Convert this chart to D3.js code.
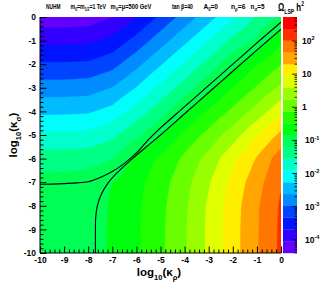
<!DOCTYPE html>
<html><head><meta charset="utf-8">
<script src="https://cdn.jsdelivr.net/npm/d3@7"></script>
<style>
body{margin:0;background:#fff}
svg{display:block}
text{font-family:"Liberation Sans",Arial,Helvetica,sans-serif;font-weight:bold;fill:#000}
</style>
</head><body>
<svg id="chart" width="327" height="282"></svg>
<script>
// ---- data ----
const xGrid = [-10,-9,-8,-7,-6,-5,-4,-3,-2,-1,0];          // log10(kappa_rho)
const yGrid = [0,-1,-2,-3,-4,-5,-6,-7,-8,-9,-10];          // log10(kappa_sigma)
// log10(Omega_LSP h^2) at grid nodes, one row per yGrid value
const logOmega = [
  [-4.26,-4.26,-4.23,-4.06,-3.70,-3.26,-2.83,-2.40,-1.96,-1.51,-1.17],
  [-3.78,-3.78,-3.76,-3.58,-3.21,-2.78,-2.35,-1.91,-1.47,-1.14,-0.53],
  [-3.29,-3.29,-3.27,-3.10,-2.72,-2.30,-1.86,-1.43,-0.93,-0.50,-0.14],
  [-2.81,-2.81,-2.78,-2.61,-2.25,-1.81,-1.39,-0.90,-0.47,-0.09, 0.31],
  [-2.34,-2.33,-2.31,-2.14,-1.75,-1.35,-0.88,-0.43,-0.05, 0.37, 0.86],
  [-1.84,-1.84,-1.81,-1.63,-1.30,-0.86,-0.38,-0.01, 0.42, 0.92, 1.39],
  [-1.38,-1.37,-1.35,-1.21,-0.69,-0.43,-0.05, 0.36, 0.85, 1.33, 1.86],
  [-1.06,-1.06,-1.00,-0.84,-0.60,-0.28, 0.10, 0.55, 1.05, 1.52, 1.99],
  [-1.00,-1.00,-1.00,-0.80,-0.55,-0.22, 0.17, 0.64, 1.13, 1.61, 2.06],
  [-1.00,-1.00,-1.00,-0.79,-0.54,-0.20, 0.19, 0.66, 1.15, 1.62, 2.08],
  [-1.00,-1.00,-0.99,-0.79,-0.54,-0.20, 0.19, 0.66, 1.15, 1.63, 2.09]
];
// the two black boundary curves [log10 kappa_rho, log10 kappa_sigma]
const upperLine = [[-10,-7.09],[-9.5,-7.08],[-9,-7.06],[-8.5,-7.03],[-8,-6.98],[-7.5,-6.8],[-7,-6.55],[-6.5,-6.2],[-6,-5.76],[-5.5,-5.2],[-5,-4.7],[-4,-3.8],[-3,-2.9],[-2,-2.0],[-1,-1.1],[0,-0.22]];
const lowerLine = [[-7.7,-10],[-7.7,-9],[-7.69,-8.5],[-7.62,-8.0],[-7.45,-7.5],[-7.15,-7.0],[-6.75,-6.55],[-6.2,-6.03],[-5.5,-5.43],[-5,-5.0],[-4,-4.1],[-3,-3.2],[-2,-2.3],[-1,-1.4],[0,-0.52]];
const zRangeLog = [-4.4, 2.725];
const nLevels = 20;
const xTickValues = [-10,-9,-8,-7,-6,-5,-4,-3,-2,-1,0];
const yTickValues = [0,-1,-2,-3,-4,-5,-6,-7,-8,-9,-10];
const cbTickExp = [-4,-3,-2,-1,0,1,2];

// ---- layout ----
const svg = d3.select('#chart');
const P = {l:40, r:281, t:17, b:253};
const PW = P.r-P.l, PH = P.b-P.t;
const xS = d3.scaleLinear().domain([-10,0]).range([P.l,P.r]);
const yS = d3.scaleLinear().domain([0,-10]).range([P.t,P.b]);

// ROOT "pretty" palette, 20 contour colours
function bandColor(k){
  const idx = Math.floor((k+0.99)*50/nLevels);
  const hue = 280-(idx+1)*5.6;
  return d3.hsl(hue,1,0.5).formatHex();
}
const dz = (zRangeLog[1]-zRangeLog[0])/nLevels;
const levels = d3.range(nLevels).map(k=>zRangeLog[0]+k*dz);

// bilinear lookup in the read grid
function field(x,y){
  let fx = (x-xGrid[0])/(xGrid[1]-xGrid[0]);
  let fy = (y-yGrid[0])/(yGrid[1]-yGrid[0]);
  let i = Math.max(0,Math.min(xGrid.length-2,Math.floor(fx)));
  let j = Math.max(0,Math.min(yGrid.length-2,Math.floor(fy)));
  const tx=fx-i, ty=fy-j;
  const a=logOmega[j][i], b=logOmega[j][i+1], c=logOmega[j+1][i], d=logOmega[j+1][i+1];
  return a*(1-tx)*(1-ty)+b*tx*(1-ty)+c*(1-tx)*ty+d*tx*ty;
}
const nx = PW, ny = PH;
const vals = new Float64Array(nx*ny);
for(let j=0;j<ny;j++){
  const y = yS.invert(P.t+(j+0.5)*PH/ny);
  for(let i=0;i<nx;i++){
    const x = xS.invert(P.l+(i+0.5)*PW/nx);
    vals[j*nx+i] = field(x,y);
  }
}
const contours = d3.contours().size([nx,ny]).thresholds(levels)(vals);
const proj = d3.geoTransform({point(x,y){this.stream.point(P.l+x*PW/nx, P.t+y*PH/ny);}});
const gp = d3.geoPath(proj);

svg.append('clipPath').attr('id','clip').append('rect').attr('x',P.l).attr('y',P.t).attr('width',PW).attr('height',PH);
const gPlot = svg.append('g').attr('clip-path','url(#clip)');
gPlot.selectAll('path.c').data(contours).join('path')
  .attr('d',gp).attr('fill',(d,i)=>bandColor(i)).attr('stroke',(d,i)=>bandColor(i)).attr('stroke-width',0.3);

const line = d3.line().x(d=>xS(d[0])).y(d=>yS(d[1])).curve(d3.curveCatmullRom.alpha(0.5));
[upperLine,lowerLine].forEach(L=>{
  gPlot.append('path').attr('d',line(L)).attr('fill','none').attr('stroke','#000').attr('stroke-width',1.1);
});

// ---- axes ----
function styleAxis(g,size){
  g.attr('font-family',null).attr('font-size',null);
  g.selectAll('text').attr('font-size',size).attr('fill','#000');
  g.selectAll('line').attr('stroke','#000');
  g.select('.domain').remove();
}
const minorX = d3.range(-10,0.001,0.2).map(v=>+v.toFixed(2)).filter(v=>Math.abs(v-Math.round(v))>1e-6);
const gx = svg.append('g').attr('transform',`translate(0,${P.b})`)
  .call(d3.axisBottom(xS).tickValues(xTickValues).tickSize(-6.5).tickPadding(4).tickFormat(d=>String(d)));
styleAxis(gx,8.5);
const gxm = svg.append('g').attr('transform',`translate(0,${P.b})`)
  .call(d3.axisBottom(xS).tickValues(minorX).tickSize(-3.5).tickFormat(''));
styleAxis(gxm,8);
const minorY = d3.range(-10,0.001,0.2).map(v=>+v.toFixed(2)).filter(v=>Math.abs(v-Math.round(v))>1e-6);
const gy = svg.append('g').attr('transform',`translate(${P.l},0)`)
  .call(d3.axisLeft(yS).tickValues(yTickValues).tickSize(-6.5).tickPadding(4).tickFormat(d=>String(d)));
styleAxis(gy,8.5);
const gym = svg.append('g').attr('transform',`translate(${P.l},0)`)
  .call(d3.axisLeft(yS).tickValues(minorY).tickSize(-3.5).tickFormat(''));
styleAxis(gym,8);
svg.append('line').attr('x1',P.l).attr('x2',P.r).attr('y1',P.b).attr('y2',P.b).attr('stroke','#000');
svg.append('line').attr('x1',P.l).attr('x2',P.l).attr('y1',P.t).attr('y2',P.b).attr('stroke','#000');

// rich text helper
function rich(sel,parts,size){
  let shift=0;
  parts.forEach(p=>{
    const target = p.s==='sub'? size*0.32 : p.s==='sup'? -size*0.42 : 0;
    sel.append('tspan').attr('dy',(target-shift).toFixed(2)).attr('font-size',p.s?size*0.65:size).text(p.t);
    shift=target;
  });
  return sel;
}
// text fitted horizontally into [x0,x1]
function fitted(x0,x1,y,parts,size){
  const t = svg.append('text').attr('x',0).attr('y',0);
  rich(t,parts,size);
  const w = t.node().getComputedTextLength();
  const k = (x1-x0)/w;
  t.attr('transform',`translate(${x0},${y}) scale(${k.toFixed(3)},1)`);
  return t;
}
// axis titles
rich(svg.append('text').attr('x',159).attr('y',276).attr('text-anchor','middle'),
  [{t:'log'},{t:'10',s:'sub'},{t:'(κ'},{t:'ρ',s:'sub'},{t:')'}],11.5);
rich(svg.append('text').attr('transform','translate(17,135) rotate(-90)').attr('text-anchor','middle'),
  [{t:'log'},{t:'10',s:'sub'},{t:'(κ'},{t:'σ',s:'sub'},{t:')'}],11.5);

// header
const hs = 7, hy = 8.5;
const header = [
  [46,60.5,[{t:'NUHM'}]],
  [70.5,106,[{t:'m'},{t:'0',s:'sub'},{t:'=m'},{t:'1/2',s:'sub'},{t:'=1 TeV'}]],
  [110.5,151.5,[{t:'m'},{t:'A',s:'sub'},{t:'=μ=500 GeV'}]],
  [172,193,[{t:'tan β=40'}]],
  [203.5,218,[{t:'A'},{t:'0',s:'sub'},{t:'=0'}]],
  [231,245.5,[{t:'n'},{t:'ρ',s:'sub'},{t:'=6'}]],
  [250.5,264.5,[{t:'n'},{t:'σ',s:'sub'},{t:'=5'}]]
];
header.forEach(([x0,x1,parts])=>fitted(x0,x1,hy,parts,hs));
fitted(278,304,10.5,[{t:'Ω'},{t:'LSP',s:'sub'},{t:' h'},{t:'2',s:'sup'}],10);

// ---- colour bar ----
const CB = {l:283, r:297};
const cbS = d3.scaleLinear().domain(zRangeLog).range([P.b,P.t]);
svg.append('g').selectAll('rect').data(levels).join('rect')
  .attr('x',CB.l).attr('width',CB.r-CB.l)
  .attr('y',d=>cbS(d+dz)).attr('height',d=>cbS(d)-cbS(d+dz)+0.2)
  .attr('fill',(d,i)=>bandColor(i));
const cbMinor = [];
for(let e=-5;e<=2;e++) for(let m=2;m<=9;m++){const v=e+Math.log10(m); if(v>zRangeLog[0]&&v<zRangeLog[1]) cbMinor.push(v);}
svg.append('g').selectAll('line').data(cbMinor).join('line')
  .attr('x1',CB.r).attr('x2',CB.r-2.5).attr('y1',d=>cbS(d)).attr('y2',d=>cbS(d)).attr('stroke','#000').attr('stroke-width',0.8);
svg.append('g').selectAll('line').data(cbTickExp).join('line')
  .attr('x1',CB.r).attr('x2',CB.r-5).attr('y1',d=>cbS(d)).attr('y2',d=>cbS(d)).attr('stroke','#000').attr('stroke-width',0.8);
cbTickExp.forEach(e=>{
  const t = svg.append('text').attr('x',e<0?305:302).attr('y',cbS(e)+3);
  if(e===0) rich(t,[{t:'1'}],8.5);
  else if(e===1) rich(t,[{t:'10'}],8.5);
  else rich(t,[{t:'10'},{t:String(e),s:'sup'}],8.5);
});
</script>
</body></html>
